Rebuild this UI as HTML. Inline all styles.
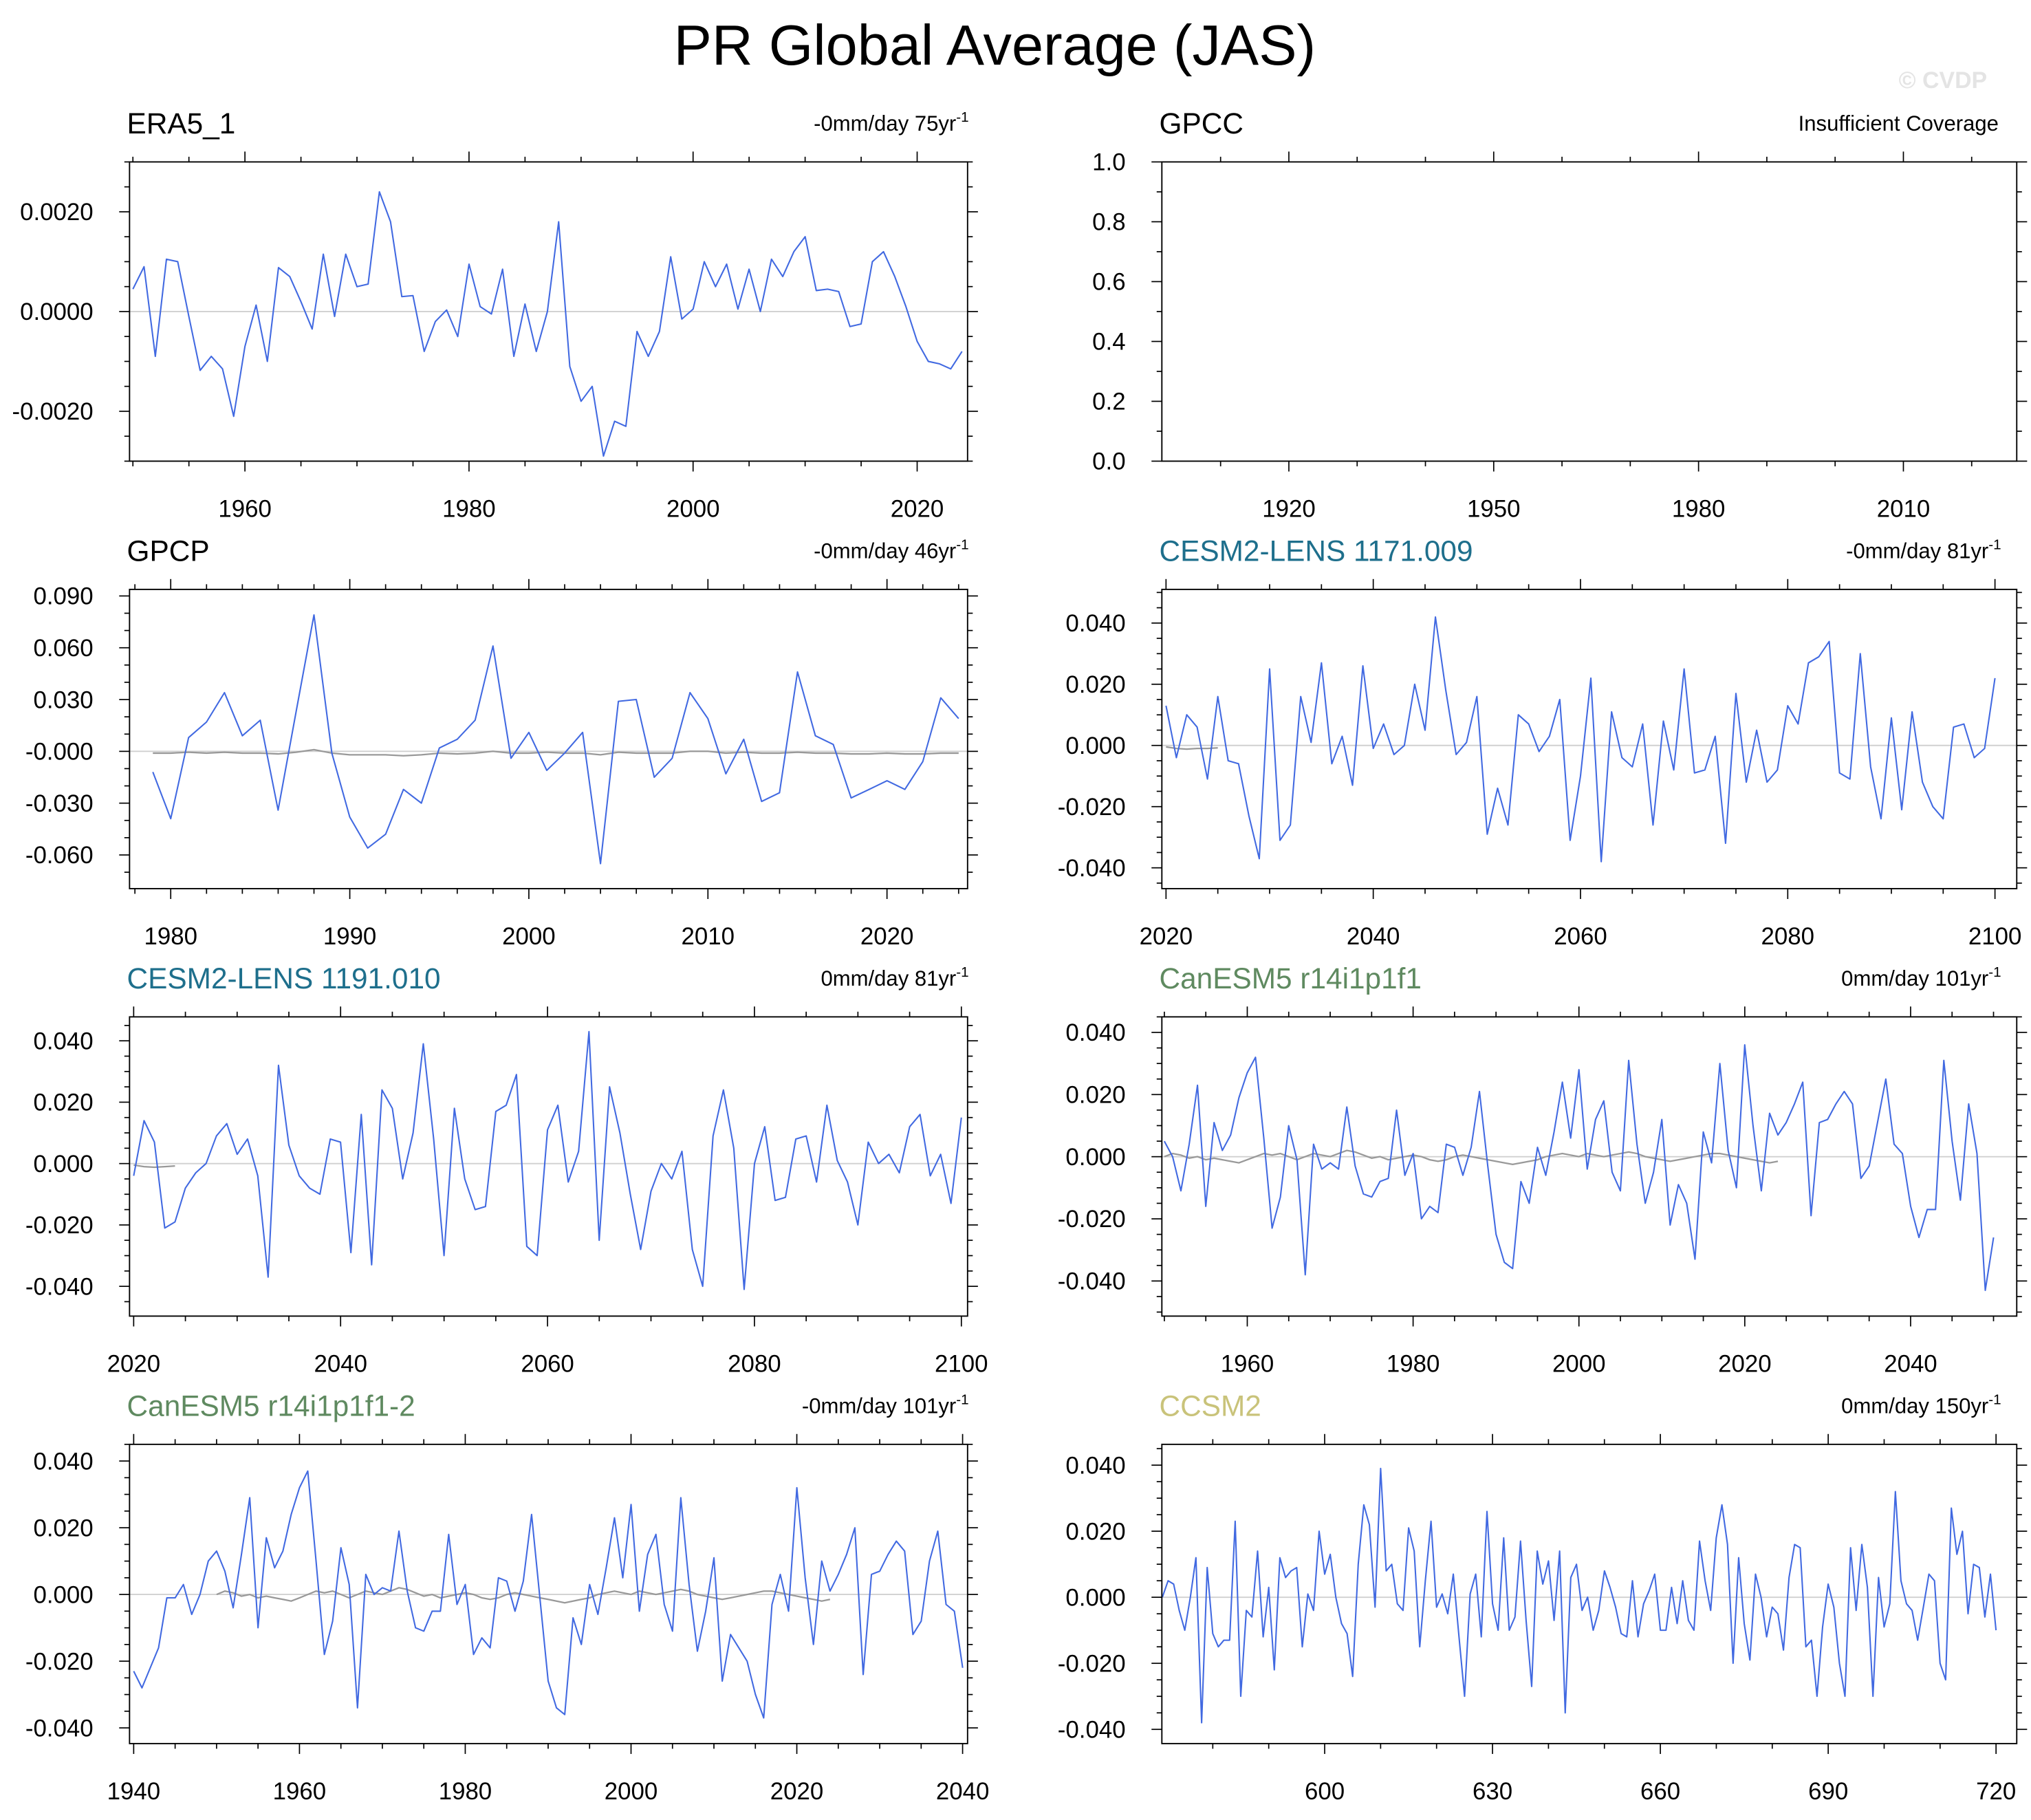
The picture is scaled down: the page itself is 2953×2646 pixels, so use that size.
<!DOCTYPE html>
<html><head><meta charset="utf-8"><style>
html,body{margin:0;padding:0;background:#fff}
svg{display:block}
text{font-family:"Liberation Sans",Arial,sans-serif}
</style></head><body>
<svg id="fig" width="2953" height="2646" viewBox="0 0 1568 1405" xmlns="http://www.w3.org/2000/svg">
<text x="768" y="50" font-size="44" text-anchor="middle" fill="#000">PR Global Average (JAS)</text>
<text x="1500" y="68" font-size="18" font-weight="bold" text-anchor="middle" fill="#e4e4e4">© CVDP</text>
</svg>
<script>
const era5Vals=[0.00045,0.0009,-0.0009,0.00105,0.001,-0.0001,-0.00118,-0.0009,-0.00115,-0.0021,
-0.0007,0.00013,-0.001,0.00088,0.0007,0.0002,-0.00035,0.00115,-0.0001,0.00115,
0.0005,0.00055,0.0024,0.0018,0.0003,0.00032,-0.0008,-0.0002,0.00003,-0.0005,
0.00095,0.0001,-0.00005,0.00085,-0.0009,0.00015,-0.0008,0.0,0.0018,-0.0011,
-0.0018,-0.0015,-0.0029,-0.0022,-0.0023,-0.0004,-0.0009,-0.0004,0.0011,-0.00015,
0.00005,0.001,0.0005,0.00095,0.00005,0.00085,0.0,0.00105,0.0007,0.0012,
0.0015,0.00042,0.00045,0.0004,-0.0003,-0.00025,0.001,0.0012,0.0007,0.0001,
-0.0006,-0.001,-0.00105,-0.00115,-0.0008];
const gpcpVals=[-0.012,-0.039,0.008,0.017,0.034,0.009,0.018,-0.034,0.023,0.079,-0.001,-0.038,-0.056,-0.048,-0.022,-0.030,0.002,0.007,0.018,0.061,-0.004,
0.011,-0.011,-0.001,0.011,-0.065,0.029,0.030,-0.015,-0.004,0.034,0.019,-0.013,0.007,-0.029,-0.024,0.046,0.009,0.004,-0.027,-0.022,-0.017,-0.022,-0.006,0.031,0.019];
const gpcpGray=[-0.001,-0.001,-0.0005,-0.001,-0.0005,-0.001,-0.001,-0.0015,-0.0005,0.001,-0.001,-0.002,-0.002,-0.002,-0.0025,-0.002,-0.001,-0.0015,-0.001,0.0,-0.001,
-0.001,-0.0005,-0.001,-0.001,-0.002,-0.0005,-0.001,-0.001,-0.001,0.0,0.0,-0.001,-0.0005,-0.001,-0.001,-0.0005,-0.001,-0.001,-0.0015,-0.0015,-0.001,-0.0015,-0.0015,-0.001,-0.001];
const cesmAVals=[0.013,-0.004,0.010,0.006,-0.011,0.016,-0.005,-0.006,-0.023,-0.037,0.025,-0.031,-0.026,0.016,0.001,0.027,-0.006,0.003,-0.013,0.026,
-0.001,0.007,-0.003,0.0,0.020,0.005,0.042,0.018,-0.003,0.001,0.016,-0.029,-0.014,-0.026,0.010,0.007,-0.002,0.003,0.015,-0.031,
-0.010,0.022,-0.038,0.011,-0.004,-0.007,0.007,-0.026,0.008,-0.008,0.025,-0.009,-0.008,0.003,-0.032,0.017,-0.012,0.005,-0.012,-0.008,
0.013,0.007,0.027,0.029,0.034,-0.009,-0.011,0.030,-0.007,-0.024,0.009,-0.021,0.011,-0.012,-0.020,-0.024,0.006,0.007,-0.004,-0.001,0.022];
const cesmAGray=[-0.0005,-0.001,-0.0012,-0.001,-0.001,-0.0008];
const cesmBVals=[-0.004,0.014,0.007,-0.021,-0.019,-0.008,-0.003,0.0,0.009,0.013,0.003,0.008,-0.004,-0.037,0.032,0.006,-0.004,-0.008,-0.010,0.008,
0.007,-0.029,0.016,-0.033,0.024,0.018,-0.005,0.010,0.039,0.008,-0.030,0.018,-0.005,-0.015,-0.014,0.017,0.019,0.029,-0.027,-0.030,
0.011,0.019,-0.006,0.004,0.043,-0.025,0.025,0.010,-0.010,-0.028,-0.009,0.0,-0.005,0.004,-0.028,-0.040,0.009,0.024,0.005,-0.041,
0.0,0.012,-0.012,-0.011,0.008,0.009,-0.006,0.019,0.001,-0.006,-0.020,0.007,0.0,0.003,-0.003,0.012,0.016,-0.004,0.003,-0.013,0.015];
const cesmBGray=[-0.0005,-0.001,-0.0012,-0.001,-0.0008];
const canAVals=[0.005,0.000,-0.011,0.004,0.023,-0.016,0.011,0.002,0.007,0.019,0.027,0.032,0.006,-0.023,-0.013,0.010,-0.001,-0.038,0.004,-0.004,
-0.002,-0.004,0.016,-0.003,-0.012,-0.013,-0.008,-0.007,0.015,-0.006,0.001,-0.020,-0.016,-0.018,0.004,0.003,-0.006,0.003,0.021,-0.003,
-0.025,-0.034,-0.036,-0.008,-0.015,0.003,-0.006,0.008,0.024,0.006,0.028,-0.004,0.012,0.018,-0.005,-0.011,0.031,0.004,-0.015,-0.005,
0.012,-0.022,-0.009,-0.015,-0.033,0.008,-0.002,0.030,0.002,-0.010,0.036,0.010,-0.011,0.014,0.007,0.011,0.017,0.024,-0.019,0.011,
0.012,0.017,0.021,0.017,-0.007,-0.003,0.011,0.025,0.004,0.001,-0.016,-0.026,-0.017,-0.017,0.031,0.005,-0.014,0.017,0.001,-0.043,-0.026];
const canGray=[0.000,0.001,0.0005,-0.0005,0.0,-0.001,-0.0005,-0.001,-0.0015,-0.002,-0.001,0.0,0.001,0.0005,0.001,0.0,-0.001,0.0,0.001,0.0005,
0.0,0.001,0.002,0.0015,0.0005,-0.0005,0.0,-0.001,-0.0005,0.0,0.0005,0.0,-0.001,-0.0015,-0.001,0.0,0.0005,0.0,-0.0005,-0.001,
-0.0015,-0.002,-0.0025,-0.002,-0.0015,-0.001,0.0,0.0005,0.001,0.0005,0.0,0.001,0.0005,0.0,0.0005,0.001,0.0015,0.001,0.0,-0.0005,
-0.001,-0.0015,-0.001,-0.0005,0.0,0.0005,0.001,0.001,0.0005,0.0,-0.0005,-0.001,-0.0015,-0.002,-0.0015];
const canBVals=[-0.023,-0.028,-0.022,-0.016,-0.001,-0.001,0.003,-0.006,0.000,0.010,
0.013,0.007,-0.004,0.012,0.029,-0.010,0.017,0.008,0.013,0.024,
0.032,0.037,0.010,-0.018,-0.008,0.014,0.003,-0.034,0.006,0.000,
0.002,0.001,0.019,0.001,-0.010,-0.011,-0.005,-0.005,0.018,-0.003,
0.003,-0.018,-0.013,-0.016,0.005,0.004,-0.005,0.004,0.024,-0.001,
-0.026,-0.034,-0.036,-0.007,-0.015,0.003,-0.006,0.008,0.023,0.005,
0.027,-0.005,0.012,0.018,-0.003,-0.011,0.029,0.003,-0.017,-0.005,
0.011,-0.026,-0.012,-0.016,-0.020,-0.030,-0.037,-0.003,0.006,-0.005,
0.032,0.005,-0.015,0.010,0.001,0.006,0.012,0.020,-0.024,0.006,
0.007,0.012,0.016,0.013,-0.012,-0.008,0.010,0.019,-0.003,-0.005,-0.022];
const ccsmVals=[0.000,0.005,0.004,-0.004,-0.010,0.000,0.012,-0.038,0.009,-0.011,
-0.015,-0.013,-0.013,0.023,-0.030,-0.004,-0.006,0.014,-0.012,0.003,
-0.022,0.012,0.006,0.008,0.009,-0.015,0.001,-0.004,0.020,0.007,
0.013,0.000,-0.008,-0.011,-0.024,0.010,0.028,0.022,-0.003,0.039,
0.008,0.010,-0.002,-0.004,0.021,0.014,-0.015,0.005,0.023,-0.003,
0.001,-0.005,0.007,-0.012,-0.030,0.001,0.007,-0.012,0.026,-0.002,
-0.010,0.018,-0.010,-0.006,0.017,-0.007,-0.027,0.014,0.004,0.011,
-0.007,0.014,-0.035,0.006,0.010,-0.004,0.000,-0.010,-0.004,0.008,
0.003,-0.003,-0.011,-0.012,0.005,-0.012,-0.002,0.002,0.007,-0.010,
-0.010,0.003,-0.008,0.005,-0.007,-0.010,0.017,0.005,-0.004,0.018,
0.028,0.016,-0.020,0.012,-0.008,-0.019,0.007,0.000,-0.012,-0.003,
-0.005,-0.016,0.006,0.016,0.015,-0.015,-0.013,-0.030,-0.009,0.004,
-0.003,-0.020,-0.030,0.015,-0.004,0.016,0.003,-0.030,0.006,-0.009,
-0.002,0.032,0.005,-0.002,-0.004,-0.013,-0.003,0.007,0.005,-0.020,
-0.025,0.027,0.013,0.020,-0.005,0.010,0.009,-0.006,0.007,-0.010];
const era5YTicks=["0.0020","0.0000","-0.0020"];
const gpccYTicks=["1.0","0.8","0.6","0.4","0.2","0.0"];
const gpcpYTicks=["0.090","0.060","0.030","-0.000","-0.030","-0.060"];
const stdYTicks=["0.040","0.020","0.000","-0.020","-0.040"];

const svg=document.getElementById('fig');
const NS='http://www.w3.org/2000/svg';
function mk(tag,attrs,parent){const e=document.createElementNS(NS,tag);for(const k in attrs)e.setAttribute(k,attrs[k]);(parent||svg).appendChild(e);return e;}

const panels=[
 {id:'era5',title:'ERA5_1',tcol:'#000',right:'-0mm/day 75yr',sup:true,rx:748,L:100,T:125,R:747,B:356,x0:1949.7,x1:2024.5,y0:-0.003,y1:0.003,start:1950,vals:era5Vals,gray:null,gs:0,
  xt:[1960,1980,2000,2020],xm:5,yv:[0.002,0,-0.002],yl:era5YTicks,ym:0.0005},
 {id:'gpcc',title:'GPCC',tcol:'#000',right:'Insufficient Coverage',sup:false,rx:1543,L:897,T:125,R:1557,B:356,x0:1901.4,x1:2026.6,y0:0,y1:1,start:0,vals:null,gray:null,
  xt:[1920,1950,1980,2010],xm:10,yv:[1,0.8,0.6,0.4,0.2,0],yl:gpccYTicks,ym:0.1},
 {id:'gpcp',title:'GPCP',tcol:'#000',right:'-0mm/day 46yr',sup:true,rx:748,L:100,T:455,R:747,B:686,x0:1977.7,x1:2024.5,y0:-0.0795,y1:0.0938,start:1979,vals:gpcpVals,gray:gpcpGray,gs:1979,
  xt:[1980,1990,2000,2010,2020],xm:2,yv:[0.09,0.06,0.03,0,-0.03,-0.06],yl:gpcpYTicks,ym:0.01},
 {id:'cesm2-1171',title:'CESM2-LENS 1171.009',tcol:'#1e6f8c',right:'-0mm/day 81yr',sup:true,rx:1545,L:897,T:455,R:1557,B:686,x0:2019.6,x1:2102.1,y0:-0.0468,y1:0.051,start:2020,vals:cesmAVals,gray:cesmAGray,gs:2020,
  xt:[2020,2040,2060,2080,2100],xm:5,yv:[0.04,0.02,0,-0.02,-0.04],yl:stdYTicks,ym:0.005},
 {id:'cesm2-1191',title:'CESM2-LENS 1191.010',tcol:'#1e6f8c',right:'0mm/day 81yr',sup:true,rx:748,L:100,T:785,R:747,B:1016,x0:2019.6,x1:2100.6,y0:-0.0497,y1:0.0478,start:2020,vals:cesmBVals,gray:cesmBGray,gs:2020,
  xt:[2020,2040,2060,2080,2100],xm:5,yv:[0.04,0.02,0,-0.02,-0.04],yl:stdYTicks,ym:0.005},
 {id:'canesm5',title:'CanESM5 r14i1p1f1',tcol:'#5f8a60',right:'0mm/day 101yr',sup:true,rx:1545,L:897,T:785,R:1557,B:1016,x0:1949.7,x1:2052.8,y0:-0.0513,y1:0.045,start:1950,vals:canAVals,gray:canGray,gs:1950,
  xt:[1960,1980,2000,2020,2040],xm:5,yv:[0.04,0.02,0,-0.02,-0.04],yl:stdYTicks,ym:0.005},
 {id:'canesm5-2',title:'CanESM5 r14i1p1f1-2',tcol:'#5f8a60',right:'-0mm/day 101yr',sup:true,rx:748,L:100,T:1115,R:747,B:1346,x0:1939.5,x1:2040.6,y0:-0.0447,y1:0.045,start:1940,vals:canBVals,gray:canGray,gs:1950,
  xt:[1940,1960,1980,2000,2020,2040],xm:5,yv:[0.04,0.02,0,-0.02,-0.04],yl:stdYTicks,ym:0.005},
 {id:'ccsm2',title:'CCSM2',tcol:'#c9c37a',right:'0mm/day 150yr',sup:true,rx:1545,L:897,T:1115,R:1557,B:1346,x0:570.9,x1:723.7,y0:-0.0443,y1:0.0463,start:571,vals:ccsmVals,gray:null,gs:0,
  xt:[600,630,660,690,720],xm:10,yv:[0.04,0.02,0,-0.02,-0.04],yl:stdYTicks,ym:0.005}
];

panels.forEach(p=>{
 const g=mk('g',{});
 
 
 const sx=v=>p.L+(v-p.x0)/(p.x1-p.x0)*(p.R-p.L);
 const sy=v=>p.B-(v-p.y0)/(p.y1-p.y0)*(p.B-p.T);
 const t=mk('text',{x:p.L-2,y:p.T-22,'font-size':22.5,fill:p.tcol},g);
 t.textContent=p.title;
 
 
 const r=mk('text',{x:p.rx,y:p.T-24,'font-size':16.5,'text-anchor':'end',fill:'#000'},g);
 
 
 const t1=mk('tspan',{},r);t1.textContent=p.right;
 if(p.sup){const s=mk('tspan',{'font-size':11,dy:-7},r);s.textContent='-1';}
 if(p.vals){const z=mk('line',{x1:p.L,x2:p.R,y1:sy(0),y2:sy(0),stroke:'#d0d0d0','stroke-width':1},g);
  
  }
 const tk=mk('g',{stroke:'#000','stroke-width':0.9},g);
 
 
 const xs=Math.ceil(p.x0/p.xm)*p.xm;
 for(let v=xs;v<=p.x1;v+=p.xm){const X=sx(v);const major=p.xt.includes(v);const len=major?8:4;
  mk('line',{x1:X,x2:X,y1:p.B,y2:p.B+len},tk);mk('line',{x1:X,x2:X,y1:p.T,y2:p.T-len},tk);}
 const ys=Math.ceil(p.y0/p.ym-1e-6);
 for(let k=ys;k*p.ym<=p.y1+1e-9;k++){const v=k*p.ym;const Y=sy(v);const major=p.yv.some(m=>Math.abs(m-v)<p.ym/10);const len=major?8:4;
  mk('line',{x1:p.L,x2:p.L-len,y1:Y,y2:Y},tk);mk('line',{x1:p.R,x2:p.R+len,y1:Y,y2:Y},tk);}
 p.xt.forEach(v=>{const e=mk('text',{x:sx(v),y:p.B+43,'font-size':18.5,'text-anchor':'middle'},g);e.textContent=String(v);
  
  });
 p.yv.forEach((v,i)=>{const e=mk('text',{x:p.L-28,y:sy(v)+6.5,'font-size':18.5,'text-anchor':'end'},g);e.textContent=p.yl[i];
  
  });
 if(p.gray){const pts=p.gray.map((v,i)=>sx(p.gs+i).toFixed(1)+','+sy(v).toFixed(1)).join(' ');
  const gl=mk('polyline',{points:pts,fill:'none',stroke:'#999','stroke-width':1.2},g);
  
  }
 if(p.vals){const pts=p.vals.map((v,i)=>sx(p.start+i).toFixed(1)+','+sy(v).toFixed(1)).join(' ');
  const l=mk('polyline',{points:pts,fill:'none',stroke:'#4169e1','stroke-width':1.1,'stroke-linejoin':'round'},g);
  
  }
 const fr=mk('rect',{x:p.L,y:p.T,width:p.R-p.L,height:p.B-p.T,fill:'none',stroke:'#000','stroke-width':1},g);
 
 
});
</script>
</body></html>
